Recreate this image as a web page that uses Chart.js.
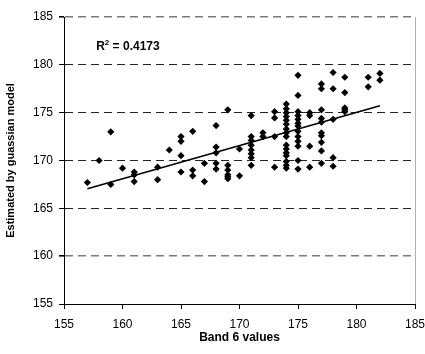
<!DOCTYPE html>
<html>
<head>
<meta charset="utf-8">
<script src="https://cdn.jsdelivr.net/npm/chart.js@4"></script>
<style>
  html, body { margin: 0; padding: 0; background: #fff; }
  #wrap { width: 425px; height: 354px; }
</style>
</head>
<body>
<div id="wrap"><canvas id="myChart"></canvas></div>
<script>
// band 6 value for each sample, and the value estimated by the model
const bandX = [
  157, 158, 159, 159, 160, 161, 161, 161, 163, 163, 164,
  165, 165, 165, 165, 166, 166, 166, 167, 167,
  168, 168, 168, 168, 168, 169, 169, 169, 169, 169, 169, 170, 170,
  171, 171, 171, 171, 171, 171, 171, 171, 172, 172,
  173, 173, 173, 173,
  174, 174, 174, 174, 174, 174, 174, 174, 174, 174, 174, 174, 174, 174, 174, 174,
  175, 175, 175, 175, 175, 175, 175, 175, 175, 175, 175, 175, 175,
  176, 176, 176, 176,
  177, 177, 177, 177, 177, 177, 177, 177, 177, 177,
  178, 178, 178, 178, 178,
  179, 179, 179, 179, 179,
  181, 181, 182, 182
];
const estimated = [
  167.7, 170.0, 173.0, 167.5, 169.2, 168.8, 168.5, 167.8, 169.3, 168.0, 171.1,
  172.5, 172.0, 170.5, 168.8, 173.05, 169.0, 168.4, 169.7, 167.8,
  173.65, 171.4, 170.8, 169.7, 169.1, 175.3, 169.5, 169.0, 168.5, 168.3, 168.1, 171.2, 168.4,
  174.7, 172.5, 172.1, 171.6, 171.1, 170.7, 170.3, 169.5, 172.9, 172.5,
  175.1, 174.45, 172.5, 169.3,
  175.9, 175.4, 175.0, 174.6, 174.2, 173.8, 173.3, 172.9, 172.5, 171.6, 171.2, 170.8, 170.5, 169.9, 169.5, 169.2,
  178.9, 176.8, 175.1, 174.7, 174.3, 173.9, 173.6, 173.05, 172.5, 172.0, 171.5, 170.0, 169.1,
  175.0, 174.7, 171.5, 169.3,
  178.0, 177.5, 175.3, 174.4, 174.0, 172.9, 172.6, 171.9, 171.0, 169.7,
  179.2, 177.5, 174.3, 170.3, 169.4,
  178.7, 177.1, 175.5, 175.3, 175.1,
  178.7, 177.7, 179.1, 178.4
];

// linear trend line ends
const trendX = [157, 182];
const trendY = [167.05, 175.73];
const rSquared = "0.4173";

const yTicks = [155, 160, 165, 170, 175, 180, 185];

const points = bandX.map(function (x, i) { return { x: x, y: estimated[i] }; });
const trend = trendX.map(function (x, i) { return { x: x, y: trendY[i] }; });

// R squared label, placed in data coordinates
const rLabel = {
  id: 'rLabel',
  afterDatasetsDraw(chart) {
    const ctx = chart.ctx;
    const x = chart.scales.x.getPixelForValue(157.75);
    const y = chart.scales.y.getPixelForValue(181.6);
    ctx.save();
    ctx.fillStyle = '#000';
    ctx.textBaseline = 'alphabetic';
    ctx.font = 'bold 12px "Liberation Sans", Arial, sans-serif';
    ctx.fillText('R', x, y);
    let w = ctx.measureText('R').width;
    ctx.font = 'bold 8px "Liberation Sans", Arial, sans-serif';
    ctx.fillText('2', x + w, y - 5);
    w += ctx.measureText('2').width;
    ctx.font = 'bold 12px "Liberation Sans", Arial, sans-serif';
    ctx.fillText(' = ' + rSquared, x + w, y);
    ctx.restore();
  }
};

const tickFont = { family: '"Liberation Sans", Arial, sans-serif', size: 12 };
const titleFont = { family: '"Liberation Sans", Arial, sans-serif', size: 12, weight: 'bold' };

new Chart(document.getElementById('myChart'), {
  type: 'scatter',
  data: {
    datasets: [
      {
        label: 'samples',
        data: points,
        pointStyle: 'rectRot',
        pointRadius: 3.6,
        backgroundColor: '#000',
        borderColor: '#000',
        borderWidth: 0
      },
      {
        type: 'line',
        label: 'trend',
        data: trend,
        borderColor: '#000',
        borderWidth: 1.6,
        pointRadius: 0,
        fill: false
      }
    ]
  },
  options: {
    responsive: true,
    maintainAspectRatio: false,
    animation: false,
    layout: { padding: { left: 0, right: 0, top: 17, bottom: 0 } },
    plugins: {
      legend: { display: false },
      tooltip: { enabled: false }
    },
    scales: {
      x: {
        type: 'linear',
        min: 155,
        max: 185,
        ticks: { stepSize: 5, color: '#000', font: tickFont, padding: 8, maxRotation: 0 },
        grid: {
          drawOnChartArea: true,
          color: function (c) { return c.tick && c.tick.value === 185 ? '#b0b0b0' : 'rgba(0,0,0,0)'; },
          tickColor: '#000',
          tickLength: 5
        },
        border: { color: '#000', width: 1 },
        title: { display: true, text: 'Band 6 values', color: '#000', font: titleFont, padding: { top: 2, bottom: 9 } },
        afterFit: function (s) { s.height = 50; s.paddingRight = 10; s.paddingLeft = 0; }
      },
      y: {
        type: 'linear',
        min: 155,
        max: 185,
        afterBuildTicks: function (s) { s.ticks = yTicks.map(function (v) { return { value: v }; }); },
        ticks: { color: '#000', font: tickFont, padding: 6 },
        grid: {
          color: function (c) {
            const v = c.tick ? c.tick.value : 0;
            if (v === 185 || v === 160) return '#7a7a7a';
            if (v === 155) return 'rgba(0,0,0,0)';
            return '#222';
          },
          lineWidth: function (c) {
            const v = c.tick ? c.tick.value : 0;
            return (v === 185 || v === 160) ? 1.6 : 1;
          },
          tickColor: '#000',
          tickLength: 5
        },
        border: { color: '#000', width: 1, dash: [8, 5] },
        title: { display: true, text: 'Estimated by guassian model', color: '#000',
                 font: { family: '"Liberation Sans", Arial, sans-serif', size: 11, weight: 'bold' }, padding: { top: 4, bottom: 0 } },
        afterFit: function (s) { s.width = 64; s.paddingTop = 0; s.paddingBottom = 0; }
      }
    }
  },
  plugins: [rLabel]
});
</script>
</body>
</html>
